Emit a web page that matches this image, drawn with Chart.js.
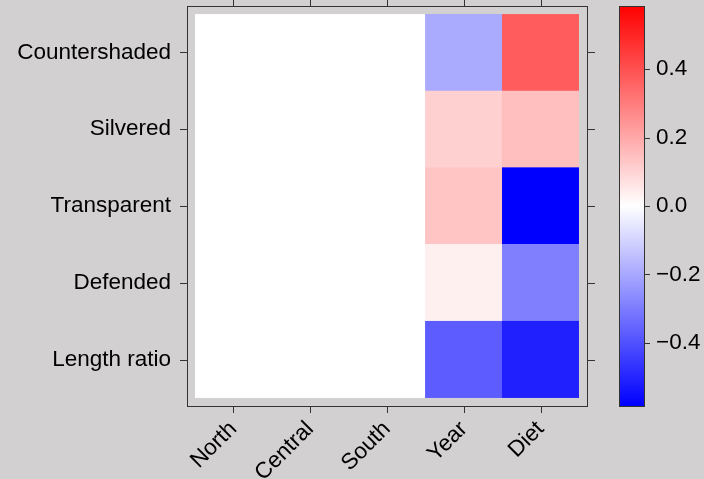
<!DOCTYPE html>
<html>
<head>
<meta charset="utf-8">
<script src="https://cdn.jsdelivr.net/npm/chart.js@4/dist/chart.umd.min.js"></script>
<style>
  html, body { margin: 0; padding: 0; background: #d2d0d0; }
  #wrap { width: 704px; height: 479px; }
</style>
</head>
<body>
<div id="wrap"><canvas id="heat" width="704" height="479"></canvas></div>
<script>
// columns (x) and rows (y, top to bottom)
const columns = ['North', 'Central', 'South', 'Year', 'Diet'];
const rows = ['Countershaded', 'Silvered', 'Transparent', 'Defended', 'Length ratio'];

// values per row, in column order
const countershaded = [0, 0, 0, -0.195, 0.37];
const silvered = [0, 0, 0, 0.108, 0.147];
const transparent = [0, 0, 0, 0.135, -0.584];
const defended = [0, 0, 0, 0.034, -0.29];
const lengthRatio = [0, 0, 0, -0.37, -0.51];

// colour key
const keyTicks = [-0.4, -0.2, 0, 0.2, 0.4];
const keyLimit = 0.584;

const rowValues = [countershaded, silvered, transparent, defended, lengthRatio];

const colorFor = (v) => {
    const t = Math.min(Math.abs(v) / keyLimit, 1);
    const c = Math.round(255 * (1 - t));
    return v >= 0 ? `rgb(255,${c},${c})` : `rgb(${c},${c},255)`;
};

// bottom row first, so the stack reads top-down like the rows list
const datasets = rows.map((name, i) => ({
    label: name,
    data: columns.map(() => 1),
    backgroundColor: rowValues[i].map(colorFor),
    borderColor: rowValues[i].map(colorFor),
    borderWidth: 0.5,
    borderSkipped: false,
    barPercentage: 1,
    categoryPercentage: 1
})).reverse();

const FONT = { family: '"Liberation Sans", Arial, sans-serif', size: 22.5 };
const INK = '#333';

const framePlugin = {
    id: 'frame',
    afterDraw(chart) {
        const { ctx, chartArea: a, scales } = chart;
        const pad = 8;
        const L = a.left - pad, R = a.right + pad, T = a.top - pad, B = a.bottom + pad;
        ctx.save();
        ctx.strokeStyle = INK;
        ctx.lineWidth = 1;
        ctx.strokeRect(L + 0.5, T + 0.5, R - L, B - T);
        ctx.beginPath();
        scales.x.ticks.forEach((t, i) => {
            const x = Math.round(scales.x.getPixelForTick(i)) + 0.5;
            ctx.moveTo(x, B); ctx.lineTo(x, B + 7);
            ctx.moveTo(x, T); ctx.lineTo(x, T - 7);
        });
        scales.y.ticks.forEach((t) => {
            const y = Math.round(scales.y.getPixelForValue(t.value)) + 0.5;
            ctx.moveTo(L, y); ctx.lineTo(L - 7, y);
            ctx.moveTo(R + 1, y); ctx.lineTo(R + 8, y);
        });
        ctx.stroke();

        // colour key
        const k = scales.key;
        const kx = 619, kw = 25;
        const top = k.getPixelForValue(keyLimit), bot = k.getPixelForValue(-keyLimit);
        const g = ctx.createLinearGradient(0, top, 0, bot);
        g.addColorStop(0, 'rgb(255,0,0)');
        g.addColorStop(0.5, 'rgb(255,255,255)');
        g.addColorStop(1, 'rgb(0,0,255)');
        ctx.fillStyle = g;
        ctx.fillRect(kx, top, kw, bot - top);
        ctx.strokeRect(kx + 0.5, Math.round(top) + 0.5, kw, Math.round(bot - top));
        ctx.beginPath();
        keyTicks.forEach((v) => {
            const y = Math.round(k.getPixelForValue(v)) + 0.5;
            ctx.moveTo(kx + kw, y); ctx.lineTo(kx + kw + 6, y);
        });
        ctx.stroke();
        ctx.restore();
    }
};

new Chart(document.getElementById('heat'), {
    type: 'bar',
    data: { labels: columns, datasets: datasets },
    options: {
        responsive: false,
        animation: false,
        layout: { padding: { left: 0, top: 14, right: 0, bottom: 0 } },
        plugins: { legend: { display: false }, tooltip: { enabled: false } },
        scales: {
            x: {
                stacked: true,
                grid: { display: false, drawTicks: true, tickLength: 18 },
                border: { display: false },
                ticks: { color: '#000', font: FONT, minRotation: 45, maxRotation: 45, padding: 0 },
                afterFit: (s) => { s.height = 81; }
            },
            y: {
                stacked: true,
                min: 0, max: 5,
                grid: { display: false, drawTicks: true, tickLength: 24 },
                border: { display: false },
                afterBuildTicks: (s) => { s.ticks = rows.map((r, i) => ({ value: 4.5 - i })); },
                ticks: {
                    color: '#000', font: FONT, padding: 0,
                    callback: (v) => rows[Math.round(4.5 - v)]
                },
                afterFit: (s) => { s.width = 195; }
            },
            key: {
                position: 'right',
                min: -0.5606, max: 0.5606,
                grid: { display: false, drawTicks: true, tickLength: 77 },
                border: { display: false },
                afterBuildTicks: (s) => { s.ticks = keyTicks.map((v) => ({ value: v })); },
                ticks: {
                    color: '#000', font: FONT, padding: 0,
                    callback: (v) => v.toFixed(1).replace('-', '\u2212')
                },
                afterFit: (s) => { s.width = 125; }
            }
        }
    },
    plugins: [framePlugin]
});
</script>
</body>
</html>
